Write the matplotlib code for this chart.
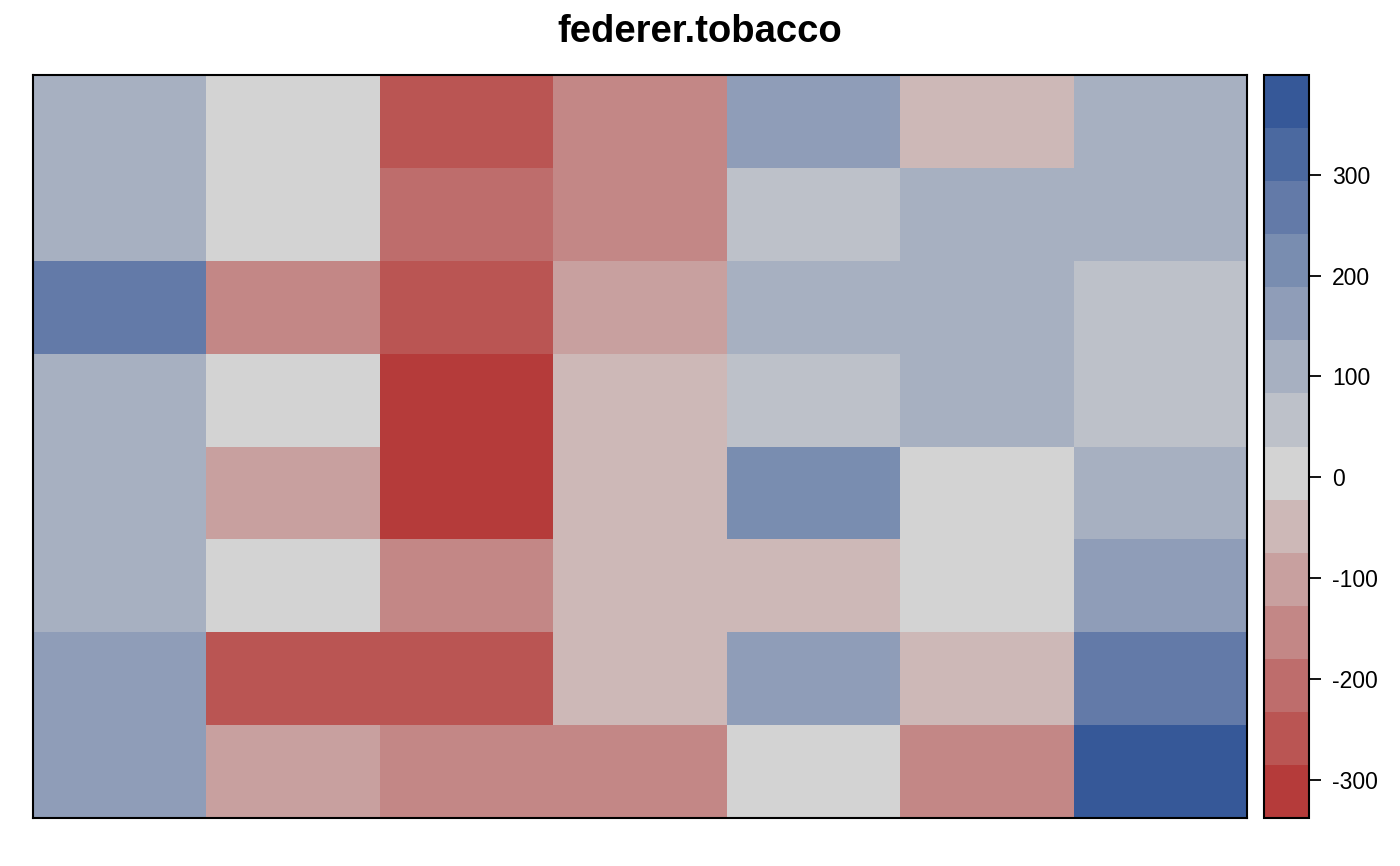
import numpy as np
import matplotlib
matplotlib.use("Agg")
import matplotlib.pyplot as plt
from matplotlib.colors import ListedColormap, BoundaryNorm

plt.rcParams["font.family"] = ["Liberation Sans", "DejaVu Sans"]
plt.rcParams["axes.unicode_minus"] = False

# cell values, rows listed top to bottom, 7 columns
row1 = [110, 4, -259, -154, 162, -48, 110]
row2 = [110, 4, -206, -154, 57, 110, 110]
row3 = [268, -154, -259, -101, 110, 110, 57]
row4 = [110, 4, -338, -48, 57, 110, 57]
row5 = [110, -101, -312, -48, 215, 4, 110]
row6 = [110, 4, -154, -48, -48, 4, 162]
row7 = [162, -259, -259, -48, 162, -48, 268]
row8 = [162, -101, -154, -154, 4, -154, 399]

colors = ["#B53B3A", "#BA5553", "#BE6D6C", "#C38786", "#C8A09F", "#CDB8B7",
          "#D3D3D3",
          "#BDC1C9", "#A7B0C1", "#8F9DB8", "#798DB0", "#637AA8", "#4B69A0", "#365898"]
cbar_ticks = [-300, -200, -100, 0, 100, 200, 300]

z = np.array([row1, row2, row3, row4, row5, row6, row7, row8], dtype=float)
vmin, vmax = z.min(), z.max()
bounds = np.linspace(vmin, vmax, len(colors) + 1)
cmap = ListedColormap(colors)
norm = BoundaryNorm(bounds, cmap.N)

W, H = 1400, 866
fig = plt.figure(figsize=(W / 100, H / 100), dpi=100)
ax = fig.add_axes([33 / W, 1 - 818 / H, (1247 - 33) / W, (818 - 75) / H])
cax = fig.add_axes([1264 / W, 1 - 818 / H, (1309 - 1264) / W, (818 - 75) / H])

ny, nx = z.shape
ax.pcolormesh(np.arange(nx + 1), np.arange(ny + 1), z, cmap=cmap, norm=norm)
ax.set_xlim(0, nx)
ax.set_ylim(ny, 0)
ax.set_xticks([])
ax.set_yticks([])
for s in ax.spines.values():
    s.set_linewidth(1.5)
fig.text(0.5, 1 - 42 / H, "federer.tobacco",
         fontsize=27.5, fontweight="bold", ha="center", va="baseline")

cb = fig.colorbar(plt.cm.ScalarMappable(norm=norm, cmap=cmap), cax=cax,
                  ticks=cbar_ticks, spacing="proportional")
cb.outline.set_linewidth(1.5)
cax.minorticks_off()
cax.tick_params(length=8.6, width=1.3, labelsize=16.5, pad=8)

fig.savefig("out.png", dpi=100)
